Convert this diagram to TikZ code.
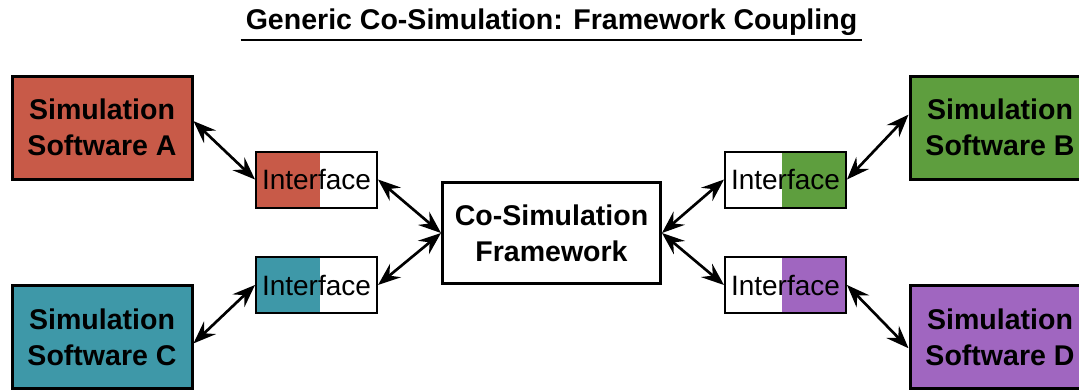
\documentclass[tikz,border=0pt]{standalone}
\usepackage{fontspec}
\setmainfont{Liberation Sans}
\usetikzlibrary{arrows.meta}
\definecolor{simA}{HTML}{C85A48}
\definecolor{simB}{HTML}{5E9E3E}
\definecolor{simC}{HTML}{3E98A8}
\definecolor{simD}{HTML}{A066C0}
\begin{document}
\begin{tikzpicture}[x=0.75pt,y=-0.75pt,
  sim/.style={draw,line width=2.25pt,minimum width=135pt,minimum height=77.25pt,
    align=center,font=\fontsize{21.4}{27}\selectfont\bfseries},
  iface/.style={draw,line width=1.5pt,minimum width=90.75pt,minimum height=42pt,
    inner sep=0pt,font=\fontsize{21}{25}\selectfont},
  ifaceL/.style={iface,path picture={\fill[#1](path picture bounding box.south west)
    rectangle([xshift=48pt]path picture bounding box.north west);}},
  ifaceR/.style={iface,path picture={\fill[#1](path picture bounding box.south east)
    rectangle([xshift=-48pt]path picture bounding box.north east);}},
  link/.style={line width=2pt,{Stealth[length=17pt,width=13pt,inset=6pt]}-{Stealth[length=17pt,width=13pt,inset=6pt]}}]
  \useasboundingbox(0,0)rectangle(1079,390);
  \clip(0,0)rectangle(1079,390);
  % title
  \node[font=\fontsize{21.4}{27}\selectfont\bfseries,anchor=base,inner xsep=3.75pt,inner ysep=3.75pt](title)at(551.5,29){Generic Co-Simulation: Framework Coupling};
  \draw[line width=1.5pt](title.south west)--(title.south east);
  % simulators
  \node[sim,fill=simA](A)at(102,127.5){Simulation\\Software A};
  \node[sim,fill=simB](B)at(1000,127.5){Simulation\\Software B};
  \node[sim,fill=simC](C)at(102,337){Simulation\\Software C};
  \node[sim,fill=simD](D)at(1000,337){Simulation\\Software D};
  % interfaces
  \node[ifaceL=simA](IA)at(316.5,179.5){Interface};
  \node[ifaceR=simB](IB)at(785.5,179.5){Interface};
  \node[ifaceL=simC](IC)at(316.5,285){Interface};
  \node[ifaceR=simD](ID)at(785.5,285){Interface};
  % framework
  \node[sim,fill=white,minimum width=163.5pt,minimum height=75.75pt](F)at(551.5,233){Co-Simulation\\Framework};
  \draw[link](A.4)--(IA.west);\draw[link](C.-4.5)--(IC.west);
  \draw[link](B.172)--(IB.east);\draw[link](D.187)--(ID.east);
  \draw[link](IA.east)--(F.west);\draw[link](IC.east)--(F.west);
  \draw[link](IB.west)--(F.east);\draw[link](ID.west)--(F.east);
\end{tikzpicture}
\end{document}
